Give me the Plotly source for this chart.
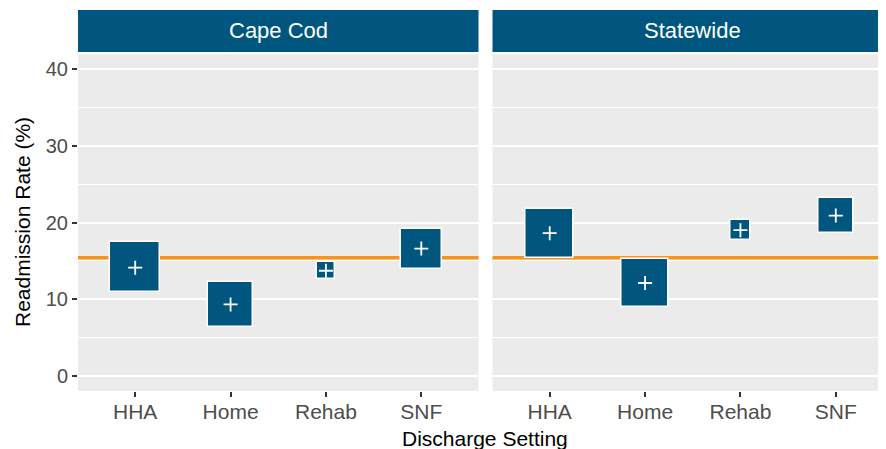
import plotly.graph_objects as go

# Readmission rate by discharge setting, 95% CI boxes with point estimate
settings = ["HHA", "Home", "Rehab", "SNF"]
regions = ["Cape Cod", "Statewide"]

cape_est = [14.1, 9.3, 13.7, 16.6]
cape_lo = [10.9, 6.3, 12.6, 13.9]
cape_hi = [17.4, 12.2, 14.9, 19.2]

state_est = [18.6, 12.1, 19.0, 20.9]
state_lo = [15.4, 9.0, 17.7, 18.6]
state_hi = [21.7, 15.2, 20.3, 23.2]

overall_rate = 15.4

# page has an 8px body margin, so layout pixels are page pixels minus OFF
OFF = 8
W, H = 886, 449
left, right, top, bottom = 78, 893, 54, 391  # plot area on the page (right facet runs off the edge)
ML, MT = left - OFF, top - OFF
MR = W + OFF - right
MB = H + OFF - bottom
plot_w = right - left
plot_h = bottom - top
gap = 14
panel_w = (plot_w - gap) / 2

blue = "#00567F"
orange = "#F7941D"
font = "Liberation Sans"

y_range = [-2, 42]
x_range = [-0.6, 3.6]
# tiles are drawn square: convert CI height (y units) into x units
ratio = (plot_h / (y_range[1] - y_range[0])) / (panel_w / (x_range[1] - x_range[0]))


def py(page_y):
    # page pixel row -> paper y
    return (bottom - page_y) / plot_h


def px(page_x):
    return (page_x - left) / plot_w


fig = go.Figure()

panels = [(cape_est, cape_lo, cape_hi), (state_est, state_lo, state_hi)]
for i, (est, lo, hi) in enumerate(panels):
    xa = "x" if i == 0 else "x2"
    heights = [h - l for h, l in zip(hi, lo)]
    fig.add_trace(go.Bar(
        x=settings, y=heights, base=lo,
        width=[h * ratio for h in heights],
        marker=dict(color=blue, line=dict(color="white", width=1.5)),
        xaxis=xa, yaxis="y", showlegend=False, hoverinfo="skip"
    ))
    fig.add_trace(go.Scatter(
        x=settings, y=est, mode="markers",
        marker=dict(symbol="cross-thin", size=10, color="white",
                    line=dict(color="white", width=1.8)),
        xaxis=xa, yaxis="y", showlegend=False
    ))
    # reference line for overall rate
    fig.add_shape(type="line", xref=f"{xa} domain", yref="y",
                  x0=0, x1=1, y0=overall_rate, y1=overall_rate,
                  line=dict(color=orange, width=3.5), layer="below")
    # strip header
    fig.add_shape(type="rect", xref=f"{xa} domain", yref="paper",
                  x0=0, x1=1, y0=py(52), y1=py(10),
                  fillcolor=blue, line=dict(width=0))
    fig.add_annotation(text=regions[i], xref=f"{xa} domain", yref="paper",
                       x=0.5, y=py(31), showarrow=False,
                       xanchor="center", yanchor="middle",
                       font=dict(family=font, size=22, color="white"))

axis_common = dict(
    type="category", categoryorder="array", categoryarray=settings,
    range=x_range, showgrid=False, zeroline=False, showline=False,
    ticks="outside", ticklen=5, tickwidth=1.5, tickcolor="#333333",
    ticklabelstandoff=-3,
    tickfont=dict(family=font, size=21, color="#4D4D4D"),
)

fig.update_layout(
    width=W, height=H,
    margin=dict(l=ML, r=MR, t=MT, b=MB),
    paper_bgcolor="white", plot_bgcolor="#EBEBEB",
    barmode="overlay", bargap=0,
    xaxis=dict(domain=[0, panel_w / plot_w], anchor="y", **axis_common),
    xaxis2=dict(domain=[(panel_w + gap) / plot_w, 1], anchor="y", **axis_common),
    yaxis=dict(range=y_range, tickvals=[0, 10, 20, 30, 40], showgrid=True,
               gridcolor="white", gridwidth=1.5, zeroline=False, showline=False,
               minor=dict(dtick=5, tick0=0, showgrid=True, gridcolor="white", gridwidth=0.7),
               ticks="outside", ticklen=5, tickwidth=1.5, tickcolor="#333333",
               tickfont=dict(family=font, size=20, color="#4D4D4D")),
    font=dict(family=font),
)

fig.add_annotation(text="Readmission Rate (%)", xref="paper", yref="paper",
                   x=px(22), y=py(222), textangle=-90, showarrow=False,
                   xanchor="center", yanchor="middle",
                   font=dict(family=font, size=21, color="black"))
fig.add_annotation(text="Discharge Setting", xref="paper", yref="paper",
                   x=px(485), y=py(438), showarrow=False,
                   xanchor="center", yanchor="middle",
                   font=dict(family=font, size=21, color="black"))

fig.write_html("out.html")
